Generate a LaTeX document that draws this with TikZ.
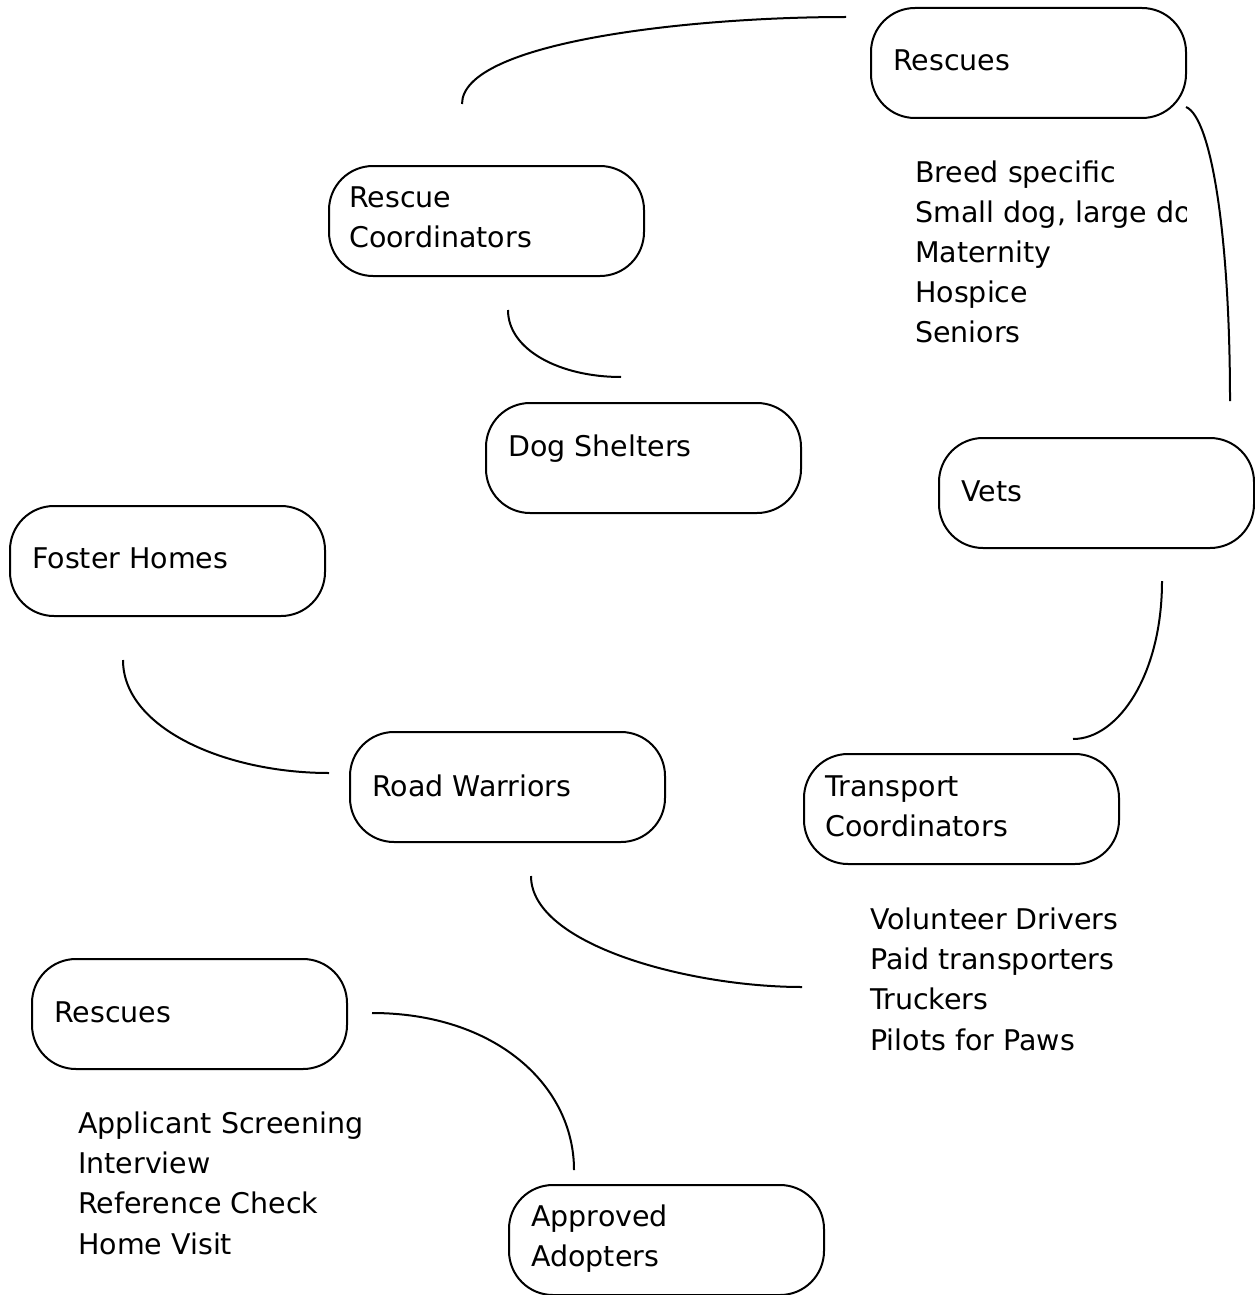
\documentclass[tikz,border=0pt]{standalone}
\usepackage{fontspec}
\setmainfont{DejaVu Sans}
\begin{document}
\begin{tikzpicture}[x=1pt,y=-1pt,
  box/.style={draw=black,line width=2pt,rounded corners=44pt,minimum width=315pt,minimum height=110pt,anchor=north west,inner sep=0pt},
  lbl/.style={anchor=base west,inner sep=0pt,font=\fontsize{28.5}{40}\selectfont},
  conn/.style={line width=2pt}]
\useasboundingbox (0,0) rectangle (1254,1295);
% boxes
\node[box] (rescTop) at (870,7) {};
\node[box] (rescCoord) at (328,165) {};
\node[box] (shelters) at (485,402) {};
\node[box] (vets) at (938,437) {};
\node[box] (foster) at (9,505) {};
\node[box] (road) at (349,731) {};
\node[box] (transp) at (803,753) {};
\node[box] (rescBot) at (31,958) {};
\node[box] (adopt) at (508,1184) {};
% box texts
\node[lbl] (tRescTop) at (893,71) {Rescues};
\node[lbl] (tRescCoord1) at (349,207) {Rescue};
\node[lbl] (tRescCoord2) at (349,247) {Coordinators};
\node[lbl] (tShelters) at (508,456) {Dog Shelters};
\node[lbl] (tVets) at (961,501) {Vets};
\node[lbl] (tFoster) at (32,568) {Foster Homes};
\node[lbl] (tRoad) at (372,796) {Road Warriors};
\node[lbl] (tTransp1) at (825,796) {Transport};
\node[lbl] (tTransp2) at (825,836) {Coordinators};
\node[lbl] (tRescBot) at (54,1022) {Rescues};
\node[lbl] (tAdopt1) at (531,1226) {Approved};
\node[lbl] (tAdopt2) at (531,1266) {Adopters};
% lists
\begin{scope}
\clip (860,140) rectangle (1186,360);
\node[lbl] (l1a) at (915,182) {Breed specific};
\node[lbl] (l1b) at (915,222) {Small dog, large do};
\node[lbl] (l1c) at (915,262) {Maternity};
\node[lbl] (l1d) at (915,302) {Hospice};
\node[lbl] (l1e) at (915,342) {Seniors};
\end{scope}
\node[lbl] (l2a) at (870,929) {Volunteer Drivers};
\node[lbl] (l2b) at (870,969) {Paid transporters};
\node[lbl] (l2c) at (870,1009) {Truckers};
\node[lbl] (l2d) at (870,1050) {Pilots for Paws};
\node[lbl] (l3a) at (78,1133) {Applicant Screening};
\node[lbl] (l3b) at (78,1173) {Interview};
\node[lbl] (l3c) at (78,1213) {Reference Check};
\node[lbl] (l3d) at (78,1254) {Home Visit};
% connector end points
\coordinate (c1a) at (462,104); \coordinate (c1b) at (846,17);
\coordinate (c2a) at (1186,107); \coordinate (c2b) at (1230,401);
\coordinate (c3a) at (508,310); \coordinate (c3b) at (621,377);
\coordinate (c4a) at (1162,581); \coordinate (c4b) at (1073,739);
\coordinate (c5a) at (123,660); \coordinate (c5b) at (329,773);
\coordinate (c6a) at (531,876); \coordinate (c6b) at (802,987);
\coordinate (c7a) at (372,1013); \coordinate (c7b) at (574,1170);
% connectors
\draw[conn] (c1a) .. controls (462,42) and (690,17) .. (c1b);
\draw[conn] (c2a) .. controls (1212,118) and (1230,240) .. (c2b);
\draw[conn] (c3a) .. controls (508,350) and (560,377) .. (c3b);
\draw[conn] (c4a) .. controls (1162,675) and (1118,739) .. (c4b);
\draw[conn] (c5a) .. controls (123,728) and (225,773) .. (c5b);
\draw[conn] (c6a) .. controls (531,945) and (690,987) .. (c6b);
\draw[conn] (c7a) .. controls (495,1013) and (574,1085) .. (c7b);
\end{tikzpicture}
\end{document}
